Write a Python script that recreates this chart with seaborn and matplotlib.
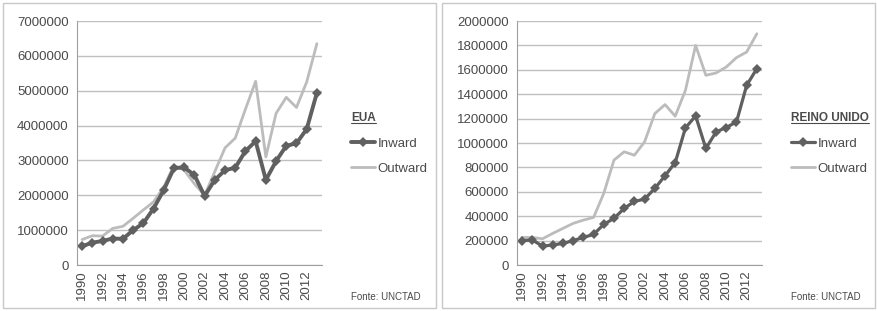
import numpy as np
import pandas as pd
import matplotlib
matplotlib.use("Agg")
import matplotlib.pyplot as plt
from matplotlib.patches import Rectangle
from matplotlib.lines import Line2D
import seaborn as sns

# data (stock of FDI, US$ million)
years = list(range(1990, 2014))

eua_inward = [540000, 640000, 690000, 760000, 750000, 1000000, 1200000, 1620000,
              2150000, 2780000, 2800000, 2580000, 1980000, 2440000, 2720000, 2790000,
              3270000, 3550000, 2440000, 2980000, 3420000, 3490000, 3900000, 4940000]
eua_outward = [730000, 840000, 830000, 1050000, 1110000, 1340000, 1580000, 1810000,
               2240000, 2860000, 2720000, 2330000, 2000000, 2680000, 3360000, 3640000,
               4470000, 5270000, 3100000, 4350000, 4810000, 4520000, 5250000, 6350000]

uk_inward = [200000, 205000, 155000, 164000, 177000, 200000, 226000, 251000,
             333000, 382000, 464000, 521000, 540000, 628000, 731000, 840000,
             1124000, 1222000, 955000, 1091000, 1127000, 1173000, 1473000, 1610000]
uk_outward = [226000, 226000, 215000, 259000, 300000, 341000, 368000, 390000,
              587000, 860000, 928000, 900000, 1010000, 1241000, 1315000, 1220000,
              1432000, 1800000, 1555000, 1574000, 1623000, 1700000, 1746000, 1896000]

# title, inward, outward, y max, y step, inward line width
panels = [
    ("EUA", eua_inward, eua_outward, 7000000, 1000000, 2.8),
    ("REINO UNIDO", uk_inward, uk_outward, 2000000, 200000, 2.3),
]

sns.set_style("white")
plt.rcParams['font.family'] = ['Liberation Sans', 'DejaVu Sans']

inward_color = "#606060"
outward_color = "#bcbcbc"
text_color = "#4a4a4a"

fig = plt.figure(figsize=(8.78, 3.11), dpi=100)
W, H = 878, 311

# panel frames
for x0 in [3, 442]:
    fig.patches.append(Rectangle((x0 / W, 3 / H), 433 / W, 305 / H, transform=fig.transFigure,
                                 fill=False, edgecolor="#c8c8c8", linewidth=1))

ax_lefts = [77, 517]
pos = np.arange(len(years))

for (title, inward, outward, ymax, ystep, lw), axl in zip(panels, ax_lefts):
    ax = fig.add_axes([axl / W, (H - 265) / H, 245 / W, 244 / H])
    df = pd.DataFrame({"pos": pos, "Inward": inward, "Outward": outward})

    sns.lineplot(data=df, x="pos", y="Outward", ax=ax, color=outward_color, linewidth=2)
    sns.lineplot(data=df, x="pos", y="Inward", ax=ax, color=inward_color, linewidth=lw,
                 marker="D", markersize=5.5, markeredgewidth=0)

    ax.set_xlim(-0.5, len(years) - 0.5)
    ax.set_ylim(0, ymax)
    ax.set_yticks(np.arange(0, ymax + 1, ystep))
    ax.set_yticklabels([f"{int(v)}" for v in np.arange(0, ymax + 1, ystep)])
    ax.set_xticks(pos[::2])
    ax.set_xticklabels([str(y) for y in years[::2]], rotation=90)
    ax.set_xticks(np.arange(-0.5, len(years)), minor=True)
    ax.tick_params(axis="x", which="major", length=0, pad=4, labelsize=9.5, colors=text_color)
    ax.tick_params(axis="x", which="minor", length=4, width=1, color="#a0a0a0", direction="out")
    ax.tick_params(axis="y", length=0, pad=6, labelsize=9.5, colors=text_color)
    ax.set_xlabel("")
    ax.set_ylabel("")
    ax.grid(axis="y", color="#c0c0c0", linewidth=1)
    ax.set_axisbelow(True)
    for s in ["top", "right"]:
        ax.spines[s].set_visible(False)
    ax.spines["left"].set_color("#a0a0a0")
    ax.spines["bottom"].set_color("#a0a0a0")

    # legend
    handles = [Line2D([], [], color=inward_color, linewidth=lw, marker="D", markersize=5,
                      markeredgewidth=0),
               Line2D([], [], color=outward_color, linewidth=2)]
    leg = ax.legend(handles, ["Inward", "Outward"], loc="upper left",
                    bbox_to_anchor=(1.07, 0.675), frameon=False, fontsize=9.5,
                    handlelength=1.8, handletextpad=0.2, labelspacing=1.0,
                    title=title, alignment="left", labelcolor=text_color)
    leg.get_title().set_fontweight("bold")
    leg.get_title().set_fontsize(8.5)
    leg.get_title().set_color(text_color)

    ax.text(1.12, -0.13, "Fonte: UNCTAD", transform=ax.transAxes, fontsize=7,
            color=text_color, ha="left", va="center")

# underline legend titles
fig.canvas.draw()
renderer = fig.canvas.get_renderer()
for ax in fig.axes:
    t = ax.get_legend().get_title()
    bb = t.get_window_extent(renderer).transformed(fig.transFigure.inverted())
    fig.lines.append(Line2D([bb.x0, bb.x1], [bb.y0 + 0.004, bb.y0 + 0.004],
                            transform=fig.transFigure, color=text_color, linewidth=0.8))

fig.savefig("out.png", dpi=100)
